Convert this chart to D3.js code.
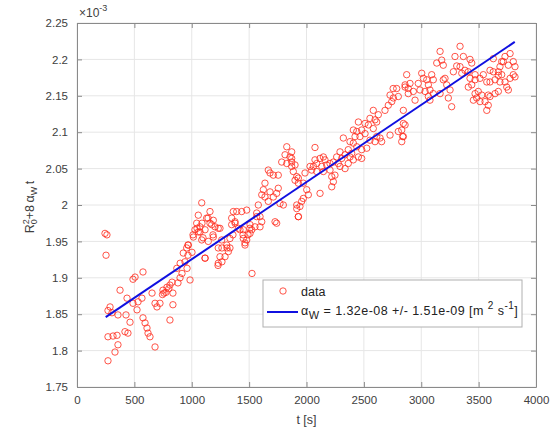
<!DOCTYPE html>
<html>
<head>
<meta charset="utf-8">
<script src="https://cdn.jsdelivr.net/npm/d3@7"></script>
<style>
  body { margin: 0; background: #fff; }
  svg { font-family: "Liberation Sans", Arial, sans-serif; }
  .tick text { fill: #404040; font-size: 11.5px; }
</style>
</head>
<body>
<div id="chart"></div>
<script>
// Set up the chart area
var svgWidth = 550;
var svgHeight = 431;
var margin = { top: 23, right: 14, bottom: 44, left: 77 };
var width = svgWidth - margin.left - margin.right;
var height = svgHeight - margin.top - margin.bottom;

// data (y in units of 1e-3)
var tVals = [
  244, 261, 253, 288, 305, 270, 349, 314, 331, 357, 270, 375, 436, 427, 462, 444, 418, 488, 506, 488,
  575, 523, 532, 566, 575, 593, 610, 619, 636, 680, 654, 680, 697, 723, 749, 784, 810, 758, 836, 810,
  828, 836, 880, 898, 915, 959, 941, 967, 985, 1002, 967, 1011, 1046, 1072, 1089, 1098, 1116, 1142, 1159, 1185,
  1246, 1263, 1229, 1263, 1290, 1307, 1333, 1359, 1377, 1420, 1447, 1464, 1490, 1507, 1525, 270, 357, 745, 775, 800,
  870, 899,
  1828, 1813, 1856, 1871, 1784, 1900, 1828, 1667, 1711, 1754, 1682, 1929, 1638, 1624, 1682, 1754, 1740, 1610, 1638, 1711,
  1769, 1798, 1580, 1667, 1915, 1929, 1087, 1159, 1057, 1130, 1188, 1174, 1043, 1072, 1028, 1116, 1057, 1203, 1231, 1014,
  1087, 1188, 1144, 970, 956, 926, 1261, 1231, 1305, 1319, 1246, 1231, 1116, 1362, 1348, 1392, 1435, 1479, 1377, 1406,
  1348, 1449, 1508, 1523, 1551, 1595, 1566, 1610, 1449, 1479, 1333, 1508, 1464, 1726, 1740, 1566, 1595,
  2786, 2859, 2728, 2757, 2800, 2743, 2713, 2887, 2684, 2582, 2626, 2597, 2553, 2510, 2539, 2612, 2452, 2582, 2438, 2481,
  2510, 2408, 2423, 2466, 2553, 2612, 2597, 2728, 2800, 2859, 2844, 2830, 2655, 2641, 2379, 2408, 2321, 2438, 2481, 2525,
  2364, 2394, 2336, 2292, 2307, 2074, 2263, 2234, 2277, 2379, 2364, 2452, 2481, 2408, 2336, 2292, 2205, 2161, 2147, 2118,
  2176, 2133, 2089, 2060, 2074, 2031, 1987, 2045, 2089, 2147, 2205, 2220, 2248, 2234, 2220, 1915, 1900, 1871, 1885, 1871,
  1871, 1929, 1972, 2002, 2016, 2118, 1972, 1958, 1915, 1943, 1929, 2755,
  3338, 3164, 3178, 3135, 3192, 3294, 3367, 3425, 3440, 3309, 3338, 3381, 3280, 3353, 3410, 3469, 3512, 3469, 3425, 3541,
  3571, 3599, 3628, 3686, 3715, 3774, 3802, 3730, 3817, 3759, 3672, 3701, 3643, 3686, 3730, 3774, 3802, 3745, 3672, 3643,
  3599, 3091, 3105, 3048, 3018, 3004, 2974, 3062, 2931, 2989, 3033, 3076, 3105, 3062, 2946, 3076, 2873, 2902, 2887, 2859,
  3192, 3222, 3251, 3164, 3236, 3265, 3207, 3410, 3440, 3469, 3497, 3527, 3512, 3483, 3454, 3556, 3584, 3571, 3599, 3584,
  2844, 2844, 2830, 2838, 3759, 3817, 3628, 3701, 3672
];
var yVals = [
  1.961, 1.959, 1.931, 1.860, 1.852, 1.819, 1.821, 1.820, 1.798, 1.808, 1.786, 1.883, 1.872, 1.849, 1.839, 1.824, 1.826, 1.865, 1.901, 1.898,
  1.908, 1.856, 1.867, 1.872, 1.845, 1.838, 1.831, 1.824, 1.819, 1.805, 1.879, 1.865, 1.860, 1.865, 1.883, 1.887, 1.890, 1.879, 1.863, 1.842,
  1.894, 1.879, 1.893, 1.900, 1.906, 1.913, 1.922, 1.931, 1.897, 1.935, 1.945, 1.959, 1.968, 1.963, 1.975, 1.955, 1.927, 1.982, 1.975, 1.959,
  1.968, 1.941, 1.917, 1.922, 1.929, 1.941, 1.941, 1.959, 1.977, 1.966, 1.959, 1.948, 1.959, 1.968, 1.906, 1.855, 1.849, 1.877, 1.880, 1.885,
  1.913, 1.920,
  2.080, 2.069, 2.066, 2.059, 2.059, 2.055, 2.057, 2.048, 2.041, 2.041, 2.044, 2.037, 2.030, 2.021, 2.018, 2.023, 2.016, 2.014, 2.011, 2.011,
  2.002, 2.000, 2.000, 2.005, 1.995, 1.984, 2.003, 1.991, 1.986, 1.982, 1.979, 1.973, 1.975, 1.970, 1.966, 1.966, 1.963, 1.970, 1.968, 1.956,
  1.952, 1.956, 1.950, 1.945, 1.941, 1.934, 1.952, 1.941, 1.945, 1.936, 1.929, 1.920, 1.927, 1.991, 1.982, 1.991, 1.991, 1.993, 1.975, 1.968,
  1.973, 1.966, 1.973, 1.966, 1.970, 1.970, 1.984, 1.977, 1.954, 1.952, 1.954, 1.961, 1.945, 1.977, 1.975, 1.989, 1.984,
  2.160, 2.165, 2.151, 2.147, 2.149, 2.142, 2.137, 2.153, 2.130, 2.130, 2.124, 2.117, 2.119, 2.112, 2.110, 2.114, 2.114, 2.105, 2.101, 2.103,
  2.098, 2.103, 2.094, 2.094, 2.089, 2.094, 2.087, 2.096, 2.101, 2.110, 2.094, 2.087, 2.087, 2.092, 2.087, 2.085, 2.092, 2.080, 2.076, 2.078,
  2.076, 2.071, 2.069, 2.073, 2.064, 2.079, 2.066, 2.059, 2.057, 2.066, 2.057, 2.066, 2.064, 2.062, 2.050, 2.053, 2.057, 2.062, 2.066, 2.064,
  2.055, 2.053, 2.057, 2.053, 2.062, 2.053, 2.044, 2.048, 2.046, 2.046, 2.048, 2.039, 2.041, 2.032, 2.025, 2.039, 2.034, 2.053, 2.046, 2.073,
  2.064, 2.030, 2.030, 2.021, 2.014, 2.016, 2.009, 2.005, 2.000, 1.998, 1.984, 2.160,
  2.218, 2.211, 2.199, 2.195, 2.192, 2.204, 2.204, 2.200, 2.195, 2.191, 2.190, 2.185, 2.183, 2.181, 2.183, 2.179, 2.174, 2.172, 2.174, 2.179,
  2.169, 2.185, 2.183, 2.190, 2.197, 2.208, 2.197, 2.204, 2.190, 2.192, 2.183, 2.179, 2.172, 2.169, 2.169, 2.174, 2.179, 2.162, 2.156, 2.153,
  2.169, 2.179, 2.172, 2.172, 2.174, 2.181, 2.167, 2.165, 2.156, 2.158, 2.156, 2.158, 2.153, 2.149, 2.144, 2.144, 2.179, 2.167, 2.160, 2.162,
  2.172, 2.165, 2.158, 2.153, 2.147, 2.135, 2.174, 2.162, 2.165, 2.153, 2.156, 2.151, 2.142, 2.147, 2.144, 2.142, 2.137, 2.130, 2.149, 2.151,
  2.130, 2.112, 2.103, 2.094, 2.158, 2.176, 2.201, 2.197, 2.178
];
var fitT = [250, 3815];
var fitY = [1.846, 2.224];
var xTicks = [0, 500, 1000, 1500, 2000, 2500, 3000, 3500, 4000];
var yTicks = [1.75, 1.8, 1.85, 1.9, 1.95, 2, 2.05, 2.1, 2.15, 2.2, 2.25];

var points = tVals.map(function(t, i) { return { t: t, y: yVals[i] }; });
var fitData = fitT.map(function(t, i) { return { t: t, y: fitY[i] }; });

// Create the SVG wrapper
var svg = d3.select("#chart")
  .append("svg")
  .attr("width", svgWidth)
  .attr("height", svgHeight);

var chartGroup = svg.append("g")
  .attr("transform", `translate(${margin.left}, ${margin.top})`);

// Scales
var xScale = d3.scaleLinear().domain([0, 4000]).range([0, width]);
var yScale = d3.scaleLinear().domain([1.75, 2.25]).range([height, 0]);

// Grid
chartGroup.append("g")
  .selectAll("line.gx")
  .data(xTicks)
  .enter()
  .append("line")
  .attr("x1", d => xScale(d)).attr("x2", d => xScale(d))
  .attr("y1", 0).attr("y2", height)
  .attr("stroke", "#e6e6e6");
chartGroup.append("g")
  .selectAll("line.gy")
  .data(yTicks)
  .enter()
  .append("line")
  .attr("x1", 0).attr("x2", width)
  .attr("y1", d => yScale(d)).attr("y2", d => yScale(d))
  .attr("stroke", "#e6e6e6");

// Axes (ticks inward, box on)
function styleAxis(g) {
  g.select(".domain").attr("stroke", "#8a8a8a");
  g.selectAll(".tick line").attr("stroke", "#8a8a8a");
}
chartGroup.append("g")
  .attr("transform", `translate(0, ${height})`)
  .call(d3.axisBottom(xScale).tickValues(xTicks).tickSizeInner(-5).tickSizeOuter(0).tickPadding(9).tickFormat(d3.format("d")))
  .call(styleAxis);
chartGroup.append("g")
  .call(d3.axisLeft(yScale).tickValues(yTicks).tickSizeInner(-5).tickSizeOuter(0).tickPadding(9).tickFormat(d3.format("")))
  .call(styleAxis);
chartGroup.append("g")
  .call(d3.axisTop(xScale).tickValues(xTicks).tickSizeInner(-5).tickSizeOuter(0).tickFormat(""))
  .call(styleAxis);
chartGroup.append("g")
  .attr("transform", `translate(${width}, 0)`)
  .call(d3.axisRight(yScale).tickValues(yTicks).tickSizeInner(-5).tickSizeOuter(0).tickFormat(""))
  .call(styleAxis);
chartGroup.selectAll(".tick text").attr("font-family", null).attr("font-size", null);

// Scatter
chartGroup.append("g")
  .selectAll("circle")
  .data(points)
  .enter()
  .append("circle")
  .attr("cx", d => xScale(d.t))
  .attr("cy", d => yScale(d.y))
  .attr("r", 3.2)
  .attr("fill", "none")
  .attr("stroke", "#ff2a1a")
  .attr("stroke-width", 0.8);

// Fit line
var line = d3.line().x(d => xScale(d.t)).y(d => yScale(d.y));
chartGroup.append("path")
  .datum(fitData)
  .attr("d", line)
  .attr("fill", "none")
  .attr("stroke", "#1010e0")
  .attr("stroke-width", 2);

// Exponent label
var expo = svg.append("text")
  .attr("x", 79).attr("y", 17)
  .attr("font-size", 12).attr("fill", "#404040");
expo.append("tspan").text("\u00d710");
expo.append("tspan").attr("dy", -6).attr("font-size", 9).text("-3");

// Axis labels
svg.append("text")
  .attr("x", margin.left + width / 2).attr("y", 424)
  .attr("text-anchor", "middle")
  .attr("font-size", 12.5).attr("fill", "#404040")
  .text("t [s]");

var yl = svg.append("text")
  .attr("transform", "translate(34, 207) rotate(-90)")
  .attr("text-anchor", "middle")
  .attr("font-size", 12.5).attr("fill", "#404040");
yl.append("tspan").text("R");
yl.append("tspan").attr("dy", -5).attr("font-size", 9).text("2");
yl.append("tspan").attr("dx", -5).attr("dy", 8).attr("font-size", 9).text("0");
yl.append("tspan").attr("dy", -3).text("+8\u2009\u03b1");
yl.append("tspan").attr("dy", 3).attr("font-size", 9).text("W");
yl.append("tspan").attr("dy", -3).text("\u2009t");

// Legend
var legend = svg.append("g").attr("transform", "translate(263, 280)");
legend.append("rect")
  .attr("width", 259).attr("height", 47)
  .attr("fill", "#fff").attr("stroke", "#b0b0b0").attr("stroke-width", 1);
legend.append("circle")
  .attr("cx", 20).attr("cy", 11).attr("r", 3.2)
  .attr("fill", "none").attr("stroke", "#ff2a1a").attr("stroke-width", 0.8);
legend.append("text")
  .attr("x", 38).attr("y", 15.5)
  .attr("font-size", 12.5).attr("fill", "#222")
  .text("data");
legend.append("line")
  .attr("x1", 4).attr("x2", 35).attr("y1", 32).attr("y2", 32)
  .attr("stroke", "#1010e0").attr("stroke-width", 2);
var lt = legend.append("text")
  .attr("x", 38).attr("y", 35)
  .attr("font-size", 12.5).attr("fill", "#222")
  .attr("letter-spacing", 0.45);
lt.append("tspan").text("\u03b1");
lt.append("tspan").attr("dy", 4).attr("font-size", 11).text("W");
lt.append("tspan").attr("dy", -4).text(" = 1.32e-08 +/- 1.51e-09 [m ");
lt.append("tspan").attr("dy", -6).attr("font-size", 10).text("2");
lt.append("tspan").attr("dy", 6).text(" s");
lt.append("tspan").attr("dy", -6).attr("font-size", 10).text("-1");
lt.append("tspan").attr("dy", 6).text("]");
</script>
</body>
</html>
